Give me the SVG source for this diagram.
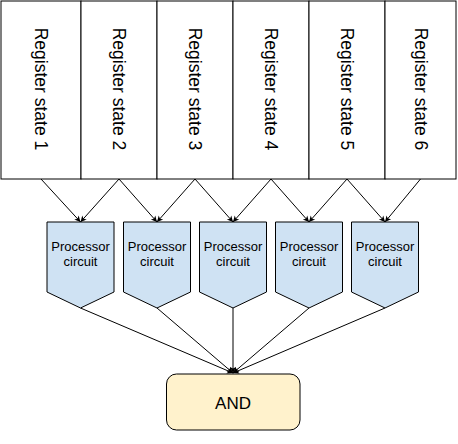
<svg xmlns="http://www.w3.org/2000/svg" width="458" height="444" viewBox="0 0 458 444">
<style>
.reg{fill:#ffffff;stroke:#000000;stroke-width:1}
.rt{font-family:"Liberation Sans",Arial,sans-serif;font-size:17.5px;fill:#000000;text-anchor:middle;dominant-baseline:central}
.proc{fill:#cfe2f3;stroke:#000000;stroke-width:1}
.pt{font-family:"Liberation Sans",Arial,sans-serif;font-size:13px;fill:#000000;text-anchor:middle}
.and{fill:#fff2cc;stroke:#000000;stroke-width:1}
.at{font-family:"Liberation Sans",Arial,sans-serif;font-size:17px;fill:#000000;text-anchor:middle;dominant-baseline:central}
.c{stroke:#000000;stroke-width:1;fill:none;marker-end:url(#ah)}
</style>
<defs>
<marker id="ah" markerWidth="8" markerHeight="8" refX="7" refY="4" orient="auto" markerUnits="userSpaceOnUse">
<path d="M1,1 L7,4 L1,7 L2.5,4 Z" fill="#000000"/>
</marker>
</defs>
<rect width="458" height="444" fill="#ffffff"/>
<g id="reg1"><rect class="reg" x="1" y="1" width="80" height="178"/><text class="rt" transform="rotate(90 41 89)" x="41" y="89">Register state 1</text></g>
<g id="reg2"><rect class="reg" x="81" y="1" width="76" height="178"/><text class="rt" transform="rotate(90 119 89)" x="119" y="89">Register state 2</text></g>
<g id="reg3"><rect class="reg" x="157" y="1" width="76" height="178"/><text class="rt" transform="rotate(90 195 89)" x="195" y="89">Register state 3</text></g>
<g id="reg4"><rect class="reg" x="233" y="1" width="76" height="178"/><text class="rt" transform="rotate(90 271 89)" x="271" y="89">Register state 4</text></g>
<g id="reg5"><rect class="reg" x="309" y="1" width="76" height="178"/><text class="rt" transform="rotate(90 347 89)" x="347" y="89">Register state 5</text></g>
<g id="reg6"><rect class="reg" x="385" y="1" width="71" height="178"/><text class="rt" transform="rotate(90 420.5 89)" x="420.5" y="89">Register state 6</text></g>
<g id="connectors">
<line class="c" x1="41" y1="179" x2="80.5" y2="222"/>
<line class="c" x1="119" y1="179" x2="80.5" y2="222"/>
<line class="c" x1="119" y1="179" x2="157" y2="222"/>
<line class="c" x1="195" y1="179" x2="157" y2="222"/>
<line class="c" x1="195" y1="179" x2="233" y2="222"/>
<line class="c" x1="271" y1="179" x2="233" y2="222"/>
<line class="c" x1="271" y1="179" x2="309" y2="222"/>
<line class="c" x1="347" y1="179" x2="309" y2="222"/>
<line class="c" x1="347" y1="179" x2="385" y2="222"/>
<line class="c" x1="420.5" y1="179" x2="385" y2="222"/>
<line class="c" x1="80.5" y1="308" x2="233" y2="373"/>
<line class="c" x1="157" y1="308" x2="233" y2="373"/>
<line class="c" x1="233" y1="308" x2="233" y2="373"/>
<line class="c" x1="309" y1="308" x2="233" y2="373"/>
<line class="c" x1="385" y1="308" x2="233" y2="373"/>
</g>
<g id="proc1"><path class="proc" d="M47,222 H114 V292 L80.5,308 L47,292 Z"/><text class="pt" x="80.5" y="251">Processor</text><text class="pt" x="80.5" y="266">circuit</text></g>
<g id="proc2"><path class="proc" d="M123.5,222 H190.5 V292 L157,308 L123.5,292 Z"/><text class="pt" x="157" y="251">Processor</text><text class="pt" x="157" y="266">circuit</text></g>
<g id="proc3"><path class="proc" d="M199.5,222 H266.5 V292 L233,308 L199.5,292 Z"/><text class="pt" x="233" y="251">Processor</text><text class="pt" x="233" y="266">circuit</text></g>
<g id="proc4"><path class="proc" d="M275.5,222 H342.5 V292 L309,308 L275.5,292 Z"/><text class="pt" x="309" y="251">Processor</text><text class="pt" x="309" y="266">circuit</text></g>
<g id="proc5"><path class="proc" d="M351.5,222 H418.5 V292 L385,308 L351.5,292 Z"/><text class="pt" x="385" y="251">Processor</text><text class="pt" x="385" y="266">circuit</text></g>
<g id="and"><rect class="and" x="166.5" y="374" width="133.5" height="56" rx="10" ry="10"/><text class="at" x="233" y="403">AND</text></g>
</svg>
